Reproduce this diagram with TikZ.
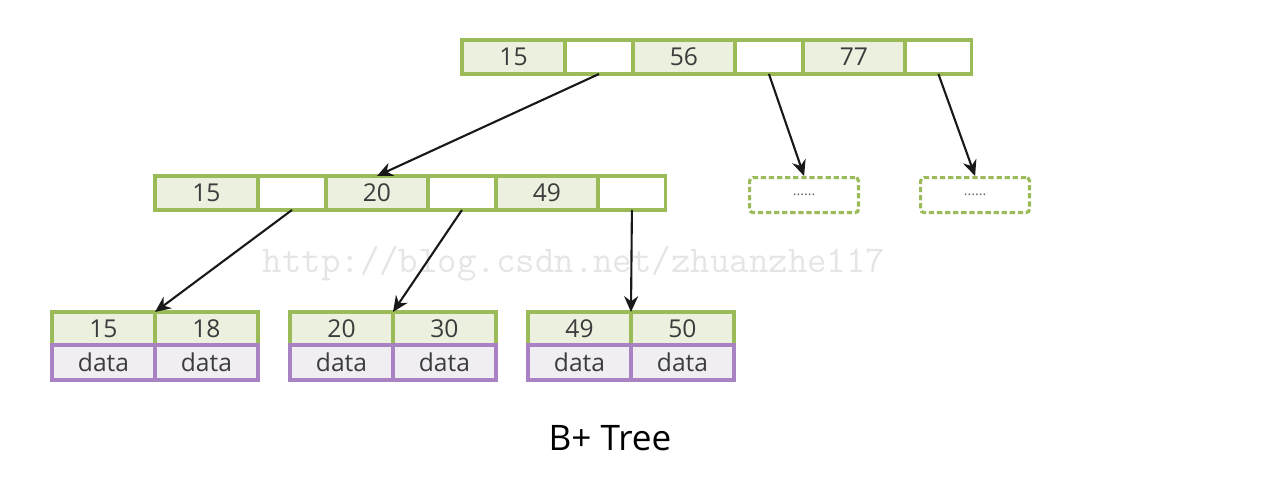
\documentclass[tikz,border=0pt]{standalone}
\usepackage{fontspec}
\setmainfont{Open Sans}
\usetikzlibrary{positioning,arrows.meta}
\definecolor{keyline}{HTML}{9BBB59}
\definecolor{keyfill}{HTML}{EBF1DE}
\definecolor{dataline}{HTML}{A882C2}
\definecolor{datafill}{HTML}{F0EEF2}
\definecolor{celltext}{HTML}{3C3C3C}
\tikzset{
  cell/.style={draw=keyline, line width=1.8pt, outer sep=0pt, inner sep=0pt,
    minimum height=0.68cm, text=celltext, font=\fontsize{14}{16}\selectfont},
  keycell/.style={cell, fill=keyfill, minimum width=2.06cm},
  ptrcell/.style={cell, fill=white, minimum width=1.36cm},
  leafkey/.style={keycell, minimum height=0.66cm},
  datacell/.style={cell, draw=dataline, fill=datafill, minimum width=2.06cm, minimum height=0.7cm},
  morebox/.style={draw=keyline, line width=1.8pt, dash pattern=on 3pt off 1.6pt, rounded corners=2pt,
    minimum width=2.18cm, minimum height=0.7cm, inner sep=0pt, text=black!60, font=\fontsize{8}{8}\selectfont},
  link/.style={-{Stealth[length=9pt,width=8pt]}, line width=1.2pt, black!90},
}
\begin{document}
\begin{tikzpicture}[x=0.02cm,y=-0.02cm]
\useasboundingbox (0,0) rectangle (1280,484);
% watermark
\node[text=black!10, font=\ttfamily\fontsize{21.5}{24}\selectfont] (mark) at (574,264) {http://blog.csdn.net/zhuanzhe117};
% root
\node[keycell, anchor=north west] (r15) at (462,40) {15};
\node[ptrcell, right=0pt of r15] (rp1) {};
\node[keycell, minimum width=2.04cm, right=0pt of rp1] (r56) {56};
\node[ptrcell, right=0pt of r56] (rp2) {};
\node[keycell, minimum width=2.04cm, right=0pt of rp2] (r77) {77};
\node[ptrcell, minimum width=1.34cm, right=0pt of r77] (rp3) {};
% inner node
\node[keycell, anchor=north west] (i15) at (155,176) {15};
\node[ptrcell, right=0pt of i15] (ip1) {};
\node[keycell, minimum width=2.04cm, right=0pt of ip1] (i20) {20};
\node[ptrcell, right=0pt of i20] (ip2) {};
\node[keycell, minimum width=2.04cm, right=0pt of ip2] (i49) {49};
\node[ptrcell, right=0pt of i49] (ip3) {};
% other subtrees
\node[morebox, anchor=north west] (more1) at (748,176) {......};
\node[morebox, anchor=north west] (more2) at (919,176) {......};
% leaves
\node[leafkey, anchor=north west] (l15) at (52,312) {15};
\node[leafkey, right=0pt of l15] (l18) {18};
\node[datacell, below=0pt of l15] (d15) {data};
\node[datacell, below=0pt of l18] (d18) {data};
\node[leafkey, anchor=north west] (l20) at (290,312) {20};
\node[leafkey, right=0pt of l20] (l30) {30};
\node[datacell, below=0pt of l20] (d20) {data};
\node[datacell, below=0pt of l30] (d30) {data};
\node[leafkey, anchor=north west] (l49) at (528,312) {49};
\node[leafkey, right=0pt of l49] (l50) {50};
\node[datacell, below=0pt of l49] (d49) {data};
\node[datacell, below=0pt of l50] (d50) {data};
% pointers
\draw[link] (rp1.south) -- (i20.north);
\draw[link] (rp2.south) -- (more1.north);
\draw[link] (rp3.south) -- (more2.north);
\draw[link] (ip1.south) -- (l15.north east);
\draw[link] (ip2.south) -- (l20.north east);
\draw[link] (ip3.south) -- (l49.north east);
% caption
\node[font=\fontsize{20}{24}\selectfont] (title) at (610,438) {B+ Tree};
\end{tikzpicture}
\end{document}
